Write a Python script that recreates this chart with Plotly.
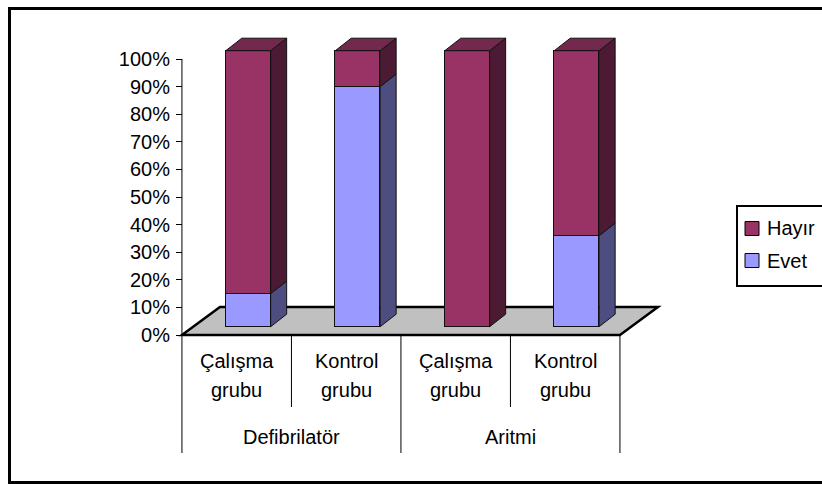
import plotly.graph_objects as go

# ---- data -------------------------------------------------------------
group_labels = ["Defibrilatör", "Aritmi"]
sub_line1 = ["Çalışma", "Kontrol", "Çalışma", "Kontrol"]
sub_line2 = ["grubu", "grubu", "grubu", "grubu"]
evet = [12, 87, 0, 33]
hayir = [88, 13, 100, 67]
tick_vals = [0, 10, 20, 30, 40, 50, 60, 70, 80, 90, 100]
tick_text = [f"{v}%" for v in tick_vals]

series = [("Evet", evet, "#9999ff", "#4d4d80", "#7373bf"),
          ("Hayır", hayir, "#993366", "#4d1a33", "#73284d")]

# ---- page geometry (pixels) -----------------------------------------
W, H = 822, 484
CAT0_PX, CAT_STEP_PX = 236.7, 109.5    # first category centre, spacing
ZERO_PX, PCT_PX = 335.0, 2.76          # 0% baseline, pixels per percent
FONT = "Liberation Sans, Arial, sans-serif"


def px_x(px):
    return (px - CAT0_PX) / CAT_STEP_PX


def px_y(py):
    return (ZERO_PX - py) / PCT_PX


def pap_x(px):
    return px / W


def pap_y(py):
    return 1 - py / H


x_range = [px_x(0), px_x(W)]
y_range = [px_y(H), px_y(0)]

# 3D look: floor depth, bar position within the floor and bar depth
FLOOR_DX, FLOOR_DY = 38 / CAT_STEP_PX, 28 / PCT_PX
BAR_SHIFT = 8.3 / PCT_PX
BAR_OFFSET, BAR_WIDTH = -0.1, 0.41
BAR_DX, BAR_DY = 16 / CAT_STEP_PX, 12.5 / PCT_PX

positions = list(range(len(evet)))

fig = go.Figure()
for name, vals, front, _, _ in series:
    fig.add_trace(go.Bar(
        x=positions, y=vals, name=name, yaxis="y2",
        offset=BAR_OFFSET, width=BAR_WIDTH,
        marker=dict(color=front, line=dict(color="#111111", width=1)),
        showlegend=False, hoverinfo="skip",
    ))

shapes = []

# floor
shapes.append(dict(
    type="path", xref="x", yref="y", layer="below",
    path=(f"M{-0.5},{0} L{-0.5 + FLOOR_DX},{FLOOR_DY} "
          f"L{3.5 + FLOOR_DX},{FLOOR_DY} L{3.5},{0} Z"),
    fillcolor="#c0c0c0", line=dict(color="black", width=2.5),
))

# side and top faces of each stacked segment
tops = [e + h for e, h in zip(evet, hayir)]
for i in positions:
    base = 0
    xl = i + BAR_OFFSET
    xr = xl + BAR_WIDTH
    for name, vals, front, side, top in series:
        v = vals[i]
        if v <= 0:
            continue
        y0, y1 = base, base + v
        shapes.append(dict(
            type="path", xref="x", yref="y2", layer="above",
            path=(f"M{xr},{y0} L{xr + BAR_DX},{y0 + BAR_DY} "
                  f"L{xr + BAR_DX},{y1 + BAR_DY} L{xr},{y1} Z"),
            fillcolor=side, line=dict(color="#111111", width=1),
        ))
        if y1 >= tops[i]:
            shapes.append(dict(
                type="path", xref="x", yref="y2", layer="above",
                path=(f"M{xl},{y1} L{xr},{y1} L{xr + BAR_DX},{y1 + BAR_DY} "
                      f"L{xl + BAR_DX},{y1 + BAR_DY} Z"),
                fillcolor=top, line=dict(color="#111111", width=1),
            ))
        base = y1

# value axis line
shapes.append(dict(type="line", xref="x", yref="y", x0=-0.5, x1=-0.5,
                   y0=0, y1=100, line=dict(color="black", width=1)))

# category dividers below the floor
for xd in [0.5, 2.5]:
    shapes.append(dict(type="line", xref="x", yref="y", x0=xd, x1=xd,
                       y0=0, y1=px_y(407), line=dict(color="black", width=1)))
for xd in [-0.5, 1.5, 3.5]:
    shapes.append(dict(type="line", xref="x", yref="y", x0=xd, x1=xd,
                       y0=0, y1=px_y(453), line=dict(color="black", width=1)))

annotations = []
for i in positions:
    annotations.append(dict(x=i, y=px_y(361), xref="x", yref="y",
                            text=sub_line1[i], showarrow=False,
                            xanchor="center", yanchor="middle"))
    annotations.append(dict(x=i, y=px_y(390), xref="x", yref="y",
                            text=sub_line2[i], showarrow=False,
                            xanchor="center", yanchor="middle"))
for g, label in enumerate(group_labels):
    annotations.append(dict(x=2 * g + 0.5, y=px_y(436.5), xref="x", yref="y",
                            text=label, showarrow=False,
                            xanchor="center", yanchor="middle"))

# legend box
shapes.append(dict(type="rect", xref="paper", yref="paper",
                   x0=pap_x(737), x1=pap_x(850), y0=pap_y(206), y1=pap_y(286),
                   line=dict(color="black", width=2)))
legend_rows = [("Hayır", "#993366", 228.5), ("Evet", "#9999ff", 260.5)]
for label, color, cy in legend_rows:
    shapes.append(dict(type="rect", xref="paper", yref="paper",
                       x0=pap_x(745), x1=pap_x(759),
                       y0=pap_y(cy - 7), y1=pap_y(cy + 7),
                       fillcolor=color, line=dict(color="black", width=1)))
    annotations.append(dict(x=pap_x(765), y=pap_y(cy), xref="paper",
                            yref="paper", text=label, showarrow=False,
                            xanchor="left", yanchor="middle"))

# outer chart frame
shapes.append(dict(type="rect", xref="paper", yref="paper",
                   x0=pap_x(9.5), x1=pap_x(850), y0=pap_y(8.5), y1=pap_y(482.5),
                   line=dict(color="black", width=3)))

fig.update_layout(
    width=W, height=H,
    margin=dict(l=0, r=0, t=0, b=0),
    paper_bgcolor="white", plot_bgcolor="white",
    barmode="stack", bargap=0,
    font=dict(family=FONT, size=20, color="black"),
    showlegend=False,
    xaxis=dict(domain=[0, 1], range=x_range, visible=False, fixedrange=True),
    yaxis=dict(range=y_range, anchor="free", position=pap_x(182),
               tickvals=tick_vals, ticktext=tick_text,
               ticks="outside", ticklen=6, tickwidth=1, tickcolor="black",
               ticklabelstandoff=2,
               showline=False, showgrid=False, zeroline=False,
               tickfont=dict(family=FONT, size=20, color="black"),
               fixedrange=True),
    yaxis2=dict(range=[y_range[0] - BAR_SHIFT, y_range[1] - BAR_SHIFT],
                overlaying="y", visible=False, fixedrange=True),
    shapes=shapes,
    annotations=annotations,
)

fig.write_html("out.html")
